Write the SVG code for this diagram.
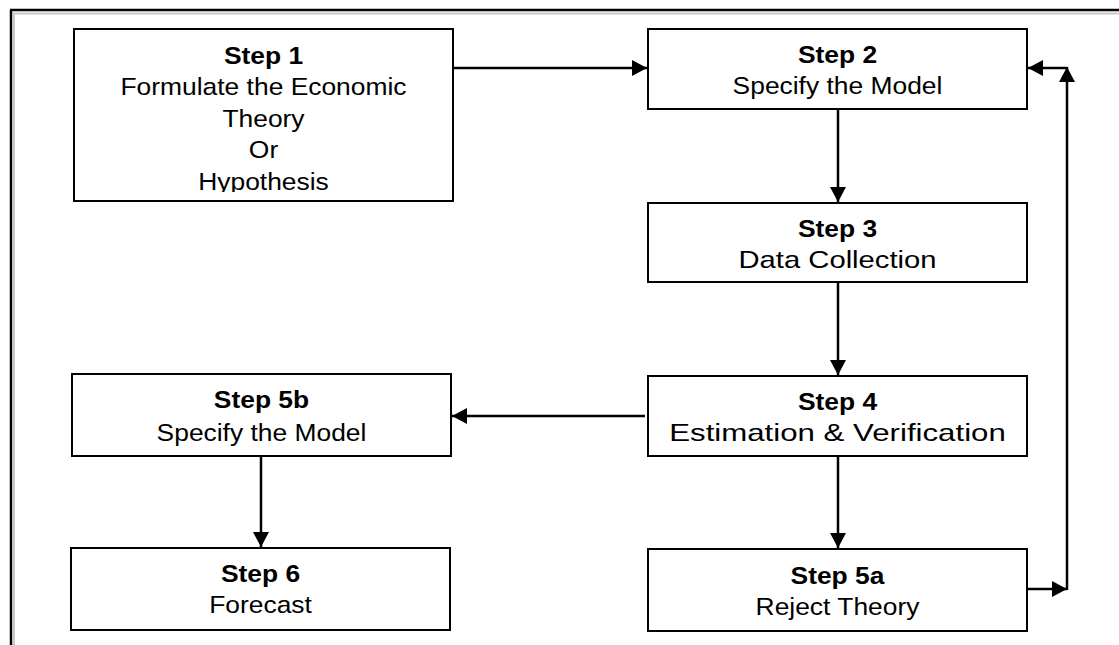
<svg xmlns="http://www.w3.org/2000/svg" width="1119" height="645" viewBox="0 0 1119 645">
  <style>
    .box { fill: #ffffff; stroke: #000000; stroke-width: 2; }
    .wire { fill: none; stroke: #000000; stroke-width: 2.5; }
    .t { font-family: "Liberation Sans", Arial, sans-serif; font-size: 24px; fill: #000000; text-anchor: middle; }
    .h { font-weight: bold; }
  </style>
  <defs>
    <marker id="arrow" viewBox="0 0 15 16" refX="15" refY="8" markerWidth="15" markerHeight="16" markerUnits="userSpaceOnUse" orient="auto">
      <path d="M0,0 L15,8 L0,16 Z" fill="#000000"/>
    </marker>
    <clipPath id="clip1">
      <rect x="75" y="30" width="377" height="162"/>
    </clipPath>
  </defs>

  <rect width="1119" height="645" fill="#ffffff"/>

  <!-- page frame: dark rule with a light grey rule inside -->
  <g id="frame">
    <line x1="10" y1="10" x2="1119" y2="10" stroke="#000000" stroke-width="2.5"/>
    <line x1="13" y1="13.5" x2="1119" y2="13.5" stroke="#c8c8c8" stroke-width="2"/>
    <line x1="11" y1="10" x2="11" y2="645" stroke="#000000" stroke-width="2.5"/>
    <line x1="14" y1="13" x2="14" y2="645" stroke="#c8c8c8" stroke-width="2"/>
  </g>

  <g id="connectors">
    <line class="wire" x1="453" y1="68" x2="647" y2="68" marker-end="url(#arrow)"/>
    <line class="wire" x1="838" y1="109" x2="838" y2="202" marker-end="url(#arrow)"/>
    <line class="wire" x1="838" y1="282" x2="838" y2="375" marker-end="url(#arrow)"/>
    <line class="wire" x1="645" y1="416" x2="452" y2="416" marker-end="url(#arrow)"/>
    <line class="wire" x1="838" y1="456" x2="838" y2="548" marker-end="url(#arrow)"/>
    <line class="wire" x1="261" y1="456" x2="261" y2="547" marker-end="url(#arrow)"/>
    <line class="wire" x1="1027" y1="589" x2="1067" y2="589" marker-end="url(#arrow)"/>
    <line class="wire" x1="1067" y1="590" x2="1067" y2="67" marker-end="url(#arrow)"/>
    <line class="wire" x1="1067" y1="68" x2="1028" y2="68" marker-end="url(#arrow)"/>
  </g>

  <g id="step1">
    <rect class="box" x="74" y="29" width="379" height="172"/>
    <g clip-path="url(#clip1)">
      <g transform="matrix(1.1 0 0 1 263.5 0)">
        <text class="t h" x="0" y="64">Step 1</text>
        <text class="t" x="0" y="95">Formulate the Economic</text>
        <text class="t" x="0" y="127">Theory</text>
        <text class="t" x="0" y="158">Or</text>
        <text class="t" x="0" y="190">Hypothesis</text>
      </g>
    </g>
  </g>

  <g id="step2">
    <rect class="box" x="648" y="29" width="379" height="80"/>
    <g transform="matrix(1.1 0 0 1 837.5 0)">
      <text class="t h" x="0" y="63">Step 2</text>
      <text class="t" x="0" y="94">Specify the Model</text>
    </g>
  </g>

  <g id="step3">
    <rect class="box" x="648" y="203" width="379" height="79"/>
    <g transform="matrix(1.1 0 0 1 837.5 0)">
      <text class="t h" x="0" y="237">Step 3</text>
      <text class="t" x="0" y="268" textLength="180" lengthAdjust="spacingAndGlyphs">Data Collection</text>
    </g>
  </g>

  <g id="step4">
    <rect class="box" x="648" y="376" width="379" height="80"/>
    <g transform="matrix(1.1 0 0 1 837.5 0)">
      <text class="t h" x="0" y="410">Step 4</text>
      <text class="t" x="0" y="441" textLength="306" lengthAdjust="spacingAndGlyphs">Estimation &amp; Verification</text>
    </g>
  </g>

  <g id="step5b">
    <rect class="box" x="72" y="374" width="379" height="82"/>
    <g transform="matrix(1.1 0 0 1 261.5 0)">
      <text class="t h" x="0" y="408">Step 5b</text>
      <text class="t" x="0" y="441">Specify the Model</text>
    </g>
  </g>

  <g id="step5a">
    <rect class="box" x="648" y="549" width="379" height="82"/>
    <g transform="matrix(1.1 0 0 1 837.5 0)">
      <text class="t h" x="0" y="584">Step 5a</text>
      <text class="t" x="0" y="615">Reject Theory</text>
    </g>
  </g>

  <g id="step6">
    <rect class="box" x="71" y="548" width="379" height="82"/>
    <g transform="matrix(1.1 0 0 1 260.5 0)">
      <text class="t h" x="0" y="582">Step 6</text>
      <text class="t" x="0" y="613">Forecast</text>
    </g>
  </g>
</svg>
